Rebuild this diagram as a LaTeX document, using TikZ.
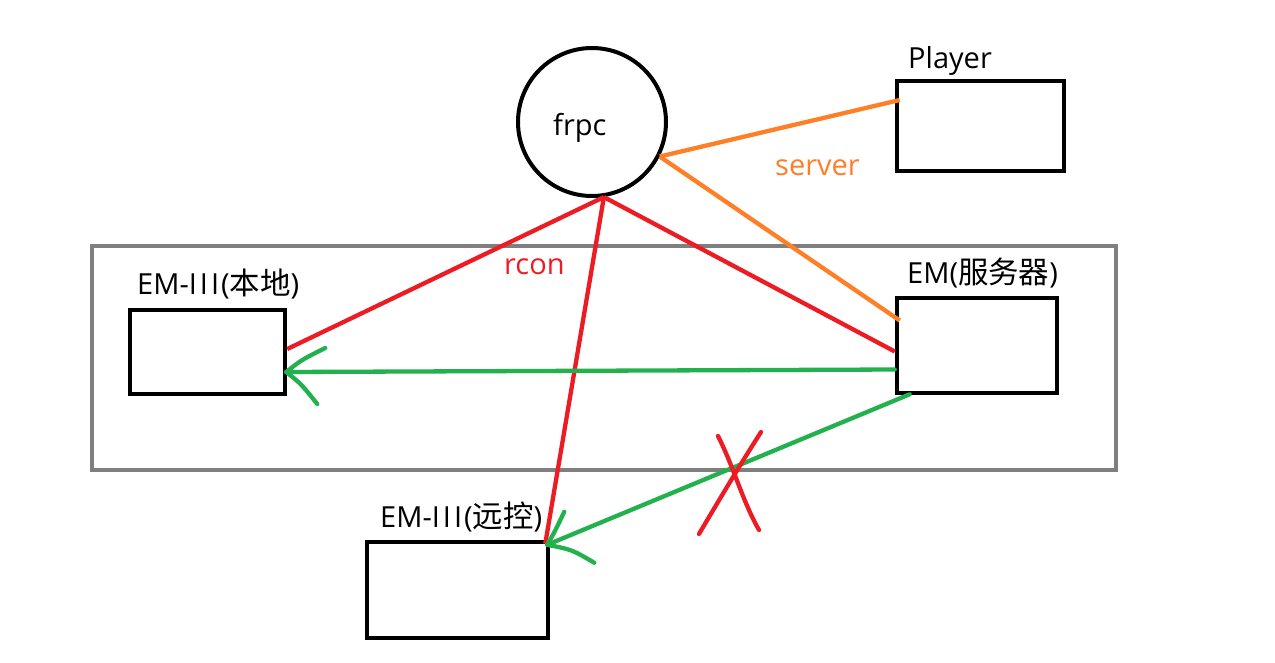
\documentclass[tikz,border=0pt]{standalone}
\usepackage{fontspec}
\setmainfont{Open Sans}
\newfontfamily\cjk[Scale=1.05]{Noto Sans CJK SC}
\usetikzlibrary{calc}
\definecolor{pRed}{HTML}{ED1C24}
\definecolor{pGreen}{HTML}{22B14C}
\definecolor{pOrange}{HTML}{FF7F27}
\definecolor{pGray}{HTML}{7F7F7F}
\newcommand{\threeI}{I\kern3pt I\kern3pt I\kern2pt}
\begin{document}
\begin{tikzpicture}[x=1pt,y=-1pt,
  box/.style={draw=black,line width=4.5pt,minimum width=#1,inner sep=0pt},
  lbl/.style={anchor=base west,inner sep=0pt,font=\fontsize{29}{34}\selectfont},
  redl/.style={draw=pRed,line width=4.3pt},
  greenl/.style={draw=pGreen,line width=4.3pt,line cap=round},
  orangel/.style={draw=pOrange,line width=4.3pt}]
\useasboundingbox (0,0) rectangle (1275,662);
\fill[white] (0,0) rectangle (1275,662);
% frame
\node[draw=pGray,line width=4pt,minimum width=1024pt,minimum height=224pt,inner sep=0pt] (frame) at (604,358) {};
% nodes
\node[circle,draw=black,line width=4pt,minimum size=148pt,inner sep=0pt] (frpc) at (592,122) {};
\node[box=167pt,minimum height=90pt] (player) at (980.5,126) {};
\node[box=155pt,minimum height=84pt] (local) at (207.5,352) {};
\node[box=160pt,minimum height=95pt] (server) at (977,345.5) {};
\node[box=181pt,minimum height=96pt] (remote) at (457.5,590) {};
% labels
\node[lbl] (tfrpc) at (553,135) {frpc};
\node[lbl] (tplayer) at (908,68) {Player};
\node[lbl] (tlocal) at (137,294) {EM-\threeI({\cjk 本地})};
\node[lbl] (tserver) at (907,283) {EM({\cjk 服务器})};
\node[lbl] (tremote) at (380,527) {EM-\threeI({\cjk 远控})};
\node[lbl,text=pOrange] (tsrv) at (775,175) {server};
\node[lbl,text=pRed] (trcon) at (504,274) {rcon};
% orange
\draw[orangel] (frpc.-27) -- ($(player.west)+(5,-26)$);
\draw[orangel] (frpc.-27) -- ($(server.west)+(5,-25)$);
% red
\draw[redl] (frpc.-81) -- ($(local.east)+(0,-3)$);
\draw[redl] (frpc.-81) -- ($(server.west)+(0,6)$);
\draw[redl] (frpc.-81) -- ($(remote.north east)+(-5,4)$);
% green
\coordinate (tipA) at ($(local.east)+(-1,20)$);
\draw[greenl] ($(server.west)+(0,24)$) -- (tipA);
\draw[greenl] (tipA) .. controls ($(tipA)+(15,-12)$) .. ($(tipA)+(39,-24)$);
\draw[greenl] (tipA) .. controls ($(tipA)+(15,12)$) .. ($(tipA)+(31,32)$);
\coordinate (tipB) at ($(remote.north east)+(-3,5)$);
\draw[greenl] ($(server.south west)+(15,-1)$) -- (tipB);
\draw[greenl] (tipB) .. controls ($(tipB)+(8,-14)$) .. ($(tipB)+(17,-33)$);
\draw[greenl] (tipB) .. controls ($(tipB)+(25,5)$) .. ($(tipB)+(47,18)$);
% cross
\draw[redl,line cap=round] (718,436) .. controls (735,470) and (742,500) .. (759,530);
\draw[redl,line cap=round] (761,432) .. controls (740,465) and (725,490) .. (699,534);
\end{tikzpicture}
\end{document}
